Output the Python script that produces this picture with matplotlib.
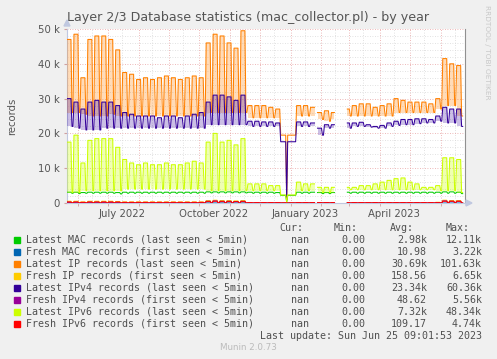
import numpy as np
import pandas as pd
import matplotlib
matplotlib.use("Agg")
import matplotlib.pyplot as plt
import matplotlib.dates as mdates

# munin year graph, daily values, weeks start on 2022-05-21
# each week: 5 "busy" days at the peak value, 2 days at the low value (in thousands)
start = pd.Timestamp("2022-05-21")
end = pd.Timestamp("2023-06-25 09:01:53")

ip_peak = [47, 48.5, 36, 47, 48, 48, 47, 44, 37.5, 37,
           35.5, 36, 35.5, 36, 36.5, 36, 35.5, 36, 36.5, 36,
           46, 48.5, 48, 46, 44.5, 49.5, 28, 28, 28, 27.5,
           27, 19.5, 19.5, 28, 28, 27.5, 26, 26.5, 26, np.nan,
           27, 28, 28.5, 28.5, 27.5, 28, 28.5, 30, 29.5, 29,
           29, 29, 28.5, 30, 41.5, 40, 39.5]
ip_low = [26, 26, 25.5, 25, 25, 25, 25.5, 25, 25, 25,
          25, 25, 25, 25, 25, 25, 25, 25, 25, 25,
          26, 26, 26, 26, 26, 26, 24.5, 24.5, 24.5, 24.5,
          24.5, 19.5, 19.5, 25, 25, 25, 24, 23.5, 24, np.nan,
          25, 25, 25, 25, 25, 25, 25, 26, 26, 26,
          26, 26, 26, 27, 28, 28, 25]

ipv4_peak = [30, 29, 27, 29, 29.5, 29, 29, 28, 26, 25.5,
             25, 25, 25, 24.5, 25, 25, 24.5, 25, 25.5, 26,
             29, 31, 31, 30.5, 29.5, 31, 23.5, 23.5, 23.3, 23.3,
             23, 17.6, 17.6, 23.3, 23.3, 23, 21.5, 22.5, 22.5, np.nan,
             23, 23, 23.2, 22.5, 22, 22.3, 23, 23.5, 24, 24,
             24.2, 24.2, 24, 25, 27.5, 27, 27]
ipv4_low = [22, 21.5, 21, 21, 21, 21.5, 21.5, 21.5, 21.5, 21.5,
            21.5, 21.5, 21.5, 21.5, 21.5, 21.5, 21.5, 21.5, 21.5, 21.5,
            22.5, 22.5, 22.5, 22.5, 22.5, 22.5, 22, 22, 22, 22,
            22, 17.6, 17.6, 22, 22, 22, 19.5, 21.5, 21.5, np.nan,
            21.5, 22, 22, 21.8, 21.5, 21.5, 22, 22.3, 22.5, 22.5,
            22.8, 23, 23, 23.5, 23, 23, 22]

ipv6_peak = [17.5, 19.5, 11.5, 18, 18.5, 18.5, 18.5, 16, 12.5, 11.5,
             11, 11.5, 11, 11, 11.5, 11, 11, 11.5, 12, 11.5,
             17.5, 20, 17.5, 18, 16.7, 18.5, 5.5, 5.5, 5.5, 5,
             5, 2.3, 2.3, 6, 5.5, 5.5, 4.5, 4.5, 4.5, np.nan,
             4.5, 4.5, 5, 5, 5.5, 6, 6.5, 7, 7.2, 6,
             5.5, 4.5, 4.5, 5, 13, 13, 12.5]
ipv6_low = [3, 3, 3.5, 3.5, 3.5, 3.5, 3.5, 3.5, 4, 4,
            4, 4, 4, 4, 4, 4, 4, 4, 4, 4,
            3.5, 3.5, 3.5, 3.5, 3.5, 3.5, 3.5, 3.5, 3.5, 3.5,
            3.5, 2.3, 2.3, 3.5, 3.5, 3.5, 3, 3, 3, np.nan,
            3.8, 3.8, 3.8, 3.8, 3.8, 3.8, 3.8, 3.8, 3.8, 3.8,
            3.8, 3.8, 3.8, 3.5, 3.5, 3.5, 3]

mac_peak = [3.1, 3.1, 3.0, 3.1, 3.1, 3.1, 3.1, 3.0, 3.1, 3.1,
            3.1, 3.1, 3.1, 3.1, 3.1, 3.1, 3.1, 3.1, 3.1, 3.1,
            3.2, 3.2, 3.2, 3.2, 3.2, 3.2, 3.1, 3.1, 3.1, 3.1,
            3.0, 2.2, 2.2, 3.1, 3.1, 3.1, 3.0, 3.0, 3.0, np.nan,
            3.1, 3.1, 3.1, 3.1, 3.1, 3.1, 3.1, 3.1, 3.1, 3.1,
            3.1, 3.1, 3.1, 3.1, 3.2, 3.2, 3.1]
mac_low = [2.8, 2.7, 2.8, 2.8, 2.8, 2.8, 2.8, 2.6, 2.8, 2.8,
           2.8, 2.8, 2.8, 2.8, 2.8, 2.8, 2.8, 2.8, 2.8, 2.8,
           2.9, 2.9, 2.9, 2.9, 2.9, 2.9, 2.8, 2.8, 2.8, 2.8,
           2.8, 2.2, 2.2, 2.8, 2.8, 2.8, 2.7, 2.7, 2.7, np.nan,
           2.8, 2.8, 2.8, 2.8, 2.8, 2.8, 2.8, 2.8, 2.8, 2.8,
           2.8, 2.8, 2.8, 2.8, 2.8, 2.8, 2.7]

# fresh records stay close to zero (weekly peaks, lows are ~0)
fresh_ip_peak = [0.5, 0.5, 0.3, 0.5, 0.5, 0.5, 0.5, 0.4, 0.3, 0.3,
                 0.3, 0.3, 0.3, 0.3, 0.3, 0.3, 0.3, 0.3, 0.3, 0.3,
                 0.7, 0.8, 0.7, 0.7, 0.6, 0.7, 0.1, 0.1, 0.1, 0.1,
                 0.1, 0.05, 0.05, 0.1, 0.1, 0.1, 0.1, 0.1, 0.1, np.nan,
                 0.1, 0.1, 0.1, 0.1, 0.1, 0.1, 0.1, 0.1, 0.1, 0.1,
                 0.1, 0.1, 0.1, 0.2, 0.8, 0.7, 0.7]
fresh_ipv4_peak = [0.2, 0.2, 0.1, 0.2, 0.2, 0.2, 0.2, 0.1, 0.1, 0.1,
                   0.1, 0.1, 0.1, 0.1, 0.1, 0.1, 0.1, 0.1, 0.1, 0.1,
                   0.5, 0.6, 0.5, 0.5, 0.4, 0.5, 0.05, 0.05, 0.05, 0.05,
                   0.05, 0.02, 0.02, 0.05, 0.05, 0.05, 0.05, 0.05, 0.05, np.nan,
                   0.05, 0.05, 0.05, 0.05, 0.05, 0.05, 0.05, 0.05, 0.05, 0.05,
                   0.05, 0.05, 0.05, 0.1, 0.6, 0.5, 0.5]
fresh_ipv6_peak = [0.3, 0.3, 0.2, 0.3, 0.3, 0.3, 0.3, 0.3, 0.2, 0.2,
                   0.2, 0.2, 0.2, 0.2, 0.2, 0.2, 0.2, 0.2, 0.2, 0.2,
                   0.4, 0.5, 0.4, 0.4, 0.4, 0.4, 0.1, 0.1, 0.1, 0.1,
                   0.1, 0.05, 0.05, 0.1, 0.1, 0.1, 0.1, 0.1, 0.1, np.nan,
                   0.1, 0.1, 0.1, 0.1, 0.1, 0.1, 0.1, 0.1, 0.1, 0.1,
                   0.1, 0.1, 0.1, 0.1, 0.5, 0.5, 0.5]
fresh_mac_peak = [0.02] * 57

# christmas break, outage and missing data
holiday = ("2022-12-22", "2023-01-06")
holiday_ip, holiday_ipv4, holiday_ipv6, holiday_mac = 19.5, 17.6, 2.3, 2.2
outage_day = "2022-12-28"
outage_ip, outage_ipv4, outage_ipv6, outage_mac = 1.0, 0.8, 0.2, 0.3
gaps = [("2023-01-26", "2023-01-27"), ("2023-02-15", "2023-02-26")]

labels = ["Latest MAC records (last seen < 5min)",
          "Fresh MAC records (first seen < 5min)",
          "Latest IP records (last seen < 5min)",
          "Fresh IP records (first seen < 5min)",
          "Latest IPv4 records (last seen < 5min)",
          "Fresh IPv4 records (first seen < 5min)",
          "Latest IPv6 records (last seen < 5min)",
          "Fresh IPv6 records (first seen < 5min)"]
colors = ["#00CC00", "#0066B3", "#FF8000", "#FFCC00",
          "#330099", "#990099", "#CCFF00", "#FF0000"]
cur = ["nan"] * 8
mins = ["0.00"] * 8
avgs = ["2.98k", "10.98", "30.69k", "158.56", "23.34k", "48.62", "7.32k", "109.17"]
maxs = ["12.11k", "3.22k", "101.63k", "6.65k", "60.36k", "5.56k", "48.34k", "4.74k"]

days = pd.date_range(start, periods=len(ip_peak) * 7, freq="D")


def weekly(peak, low, hol=None, outage=None):
    vals = []
    for p, l in zip(peak, low):
        vals += [p] * 5 + [l] * 2
    s = pd.Series(np.array(vals, dtype=float) * 1000, index=days)
    if hol is not None:
        s[holiday[0]:holiday[1]] = hol * 1000
    if outage is not None:
        s[pd.Timestamp(outage_day)] = outage * 1000
    for a, b in gaps:
        s[a:b] = np.nan
    return s


zero = [0] * 57
mac = weekly(mac_peak, mac_low, holiday_mac, outage_mac)
fmac = weekly(fresh_mac_peak, zero)
ip = weekly(ip_peak, ip_low, holiday_ip, outage_ip)
fip = weekly(fresh_ip_peak, zero)
ipv4 = weekly(ipv4_peak, ipv4_low, holiday_ipv4, outage_ipv4)
fipv4 = weekly(fresh_ipv4_peak, zero)
ipv6 = weekly(ipv6_peak, ipv6_low, holiday_ipv6, outage_ipv6)
fipv6 = weekly(fresh_ipv6_peak, zero)
series = [mac, fmac, ip, fip, ipv4, fipv4, ipv6, fipv6]
# lows used as base of the light shading inside the weekly bumps
bases = {2: (weekly(ip_low, ip_low, holiday_ip), 0.28),
         4: (weekly(ipv4_low, ipv4_low, holiday_ipv4), 0.25),
         6: (weekly(ipv6_low, ipv6_low, holiday_ipv6), 0.3)}

W, H = 497, 359
fig = plt.figure(figsize=(W / 100, H / 100), dpi=100, facecolor="#F0F0F0")


def px(x, y):
    return x / W, 1 - y / H


ax = fig.add_axes([67 / W, 1 - 203 / H, (465 - 67) / W, (203 - 29) / H])
ax.set_facecolor("white")

# grid
for d in pd.date_range("2022-06-01", "2023-06-01", freq="MS"):
    ax.axvline(d, color="#E8A0A0", lw=0.6, ls=(0, (1, 2)), zorder=1)
    ax.axvline(d + pd.Timedelta(days=14), color="#D8D8D8", lw=0.6, ls=(0, (1, 2)), zorder=1)
for v in range(0, 50001, 2000):
    c = "#E8A0A0" if v % 10000 == 0 else "#D8D8D8"
    ax.axhline(v, color=c, lw=0.6, ls=(0, (1, 2)), zorder=1)

for i, s in enumerate(series):
    if i in bases:
        b, a = bases[i]
        ax.fill_between(s.index, s.values, b.values, where=s.values > b.values,
                        color=colors[i], alpha=a, lw=0, zorder=2 + i)
    ax.plot(s.index, s.values, color=colors[i], lw=0.75, zorder=3 + i)

ax.set_xlim(start, end)
ax.set_ylim(0, 50000)
ax.set_yticks(range(0, 50001, 10000))
ax.set_yticklabels(["0"] + ["%d k" % v for v in range(10, 51, 10)])
ax.xaxis.set_major_locator(mdates.MonthLocator(bymonth=[1, 4, 7, 10], bymonthday=15))
ax.xaxis.set_major_formatter(mdates.DateFormatter("%B %Y"))
ax.xaxis.set_minor_locator(mdates.MonthLocator(bymonthday=1))
ax.tick_params(axis="both", labelsize=7.3, colors="#555555", length=0, pad=4)
ax.tick_params(axis="x", which="minor", length=2, color="#D0A0A0")
ax.tick_params(axis="y", length=2, color="#D0A0A0", pad=3)

ax.spines["top"].set_visible(False)
ax.spines["left"].set_color("#C0C8E0")
ax.spines["bottom"].set_color("#C0C8E0")
ax.spines["right"].set_color("#909090")
for sp in ax.spines.values():
    sp.set_linewidth(0.8)

# axis arrows
fig.patches.append(plt.Polygon([px(64, 26), px(70, 26), px(67, 20)], closed=True,
                               transform=fig.transFigure, color="#C0C8E0"))
fig.patches.append(plt.Polygon([px(466, 200), px(466, 206), px(472, 203)], closed=True,
                               transform=fig.transFigure, color="#C0C8E0"))

fig.text(*px(248, 17), "Layer 2/3 Database statistics (mac_collector.pl) - by year",
         ha="center", va="center", fontsize=9.1, color="#555555")
fig.text(*px(12, 116), "records", rotation=90, ha="center", va="center",
         fontsize=7.3, color="#555555")
fig.text(*px(487, 5), "RRDTOOL / TOBI OETIKER", rotation=270, ha="center", va="top",
         fontsize=5.3, color="#C8C8C8")

mono = dict(family="DejaVu Sans Mono", fontsize=7.2, color="#505050", va="center")
y0 = 228.3
fig.text(*px(303, y0), "Cur:", ha="right", **mono)
fig.text(*px(358, y0), "Min:", ha="right", **mono)
fig.text(*px(414, y0), "Avg:", ha="right", **mono)
fig.text(*px(470, y0), "Max:", ha="right", **mono)
for i in range(8):
    y = 240 + 12 * i
    fig.patches.append(plt.Rectangle(px(14, y + 3), 6 / W, 6 / H,
                                     transform=fig.transFigure, color=colors[i]))
    fig.text(*px(26, y), labels[i], ha="left", **mono)
    fig.text(*px(309, y), cur[i], ha="right", **mono)
    fig.text(*px(365, y), mins[i], ha="right", **mono)
    fig.text(*px(427, y), avgs[i], ha="right", **mono)
    fig.text(*px(482, y), maxs[i], ha="right", **mono)
fig.text(*px(482, 336), "Last update: Sun Jun 25 09:01:53 2023", ha="right", **mono)
fig.text(*px(248, 348), "Munin 2.0.73", ha="center", va="center",
         fontsize=6.3, color="#BBBBBB")

fig.savefig("out.png", dpi=100, facecolor=fig.get_facecolor())
